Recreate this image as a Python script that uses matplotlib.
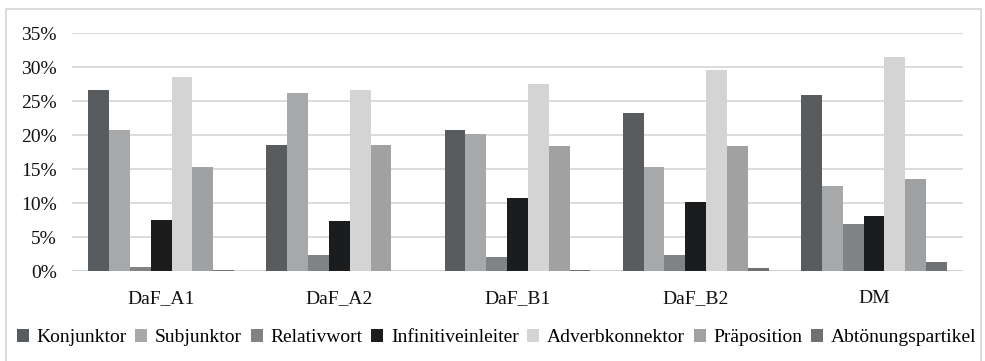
import matplotlib
matplotlib.use("Agg")
import matplotlib.pyplot as plt
import numpy as np
from matplotlib.patches import Rectangle

plt.rcParams['font.family'] = ['Liberation Serif', 'DejaVu Serif']

groups = ["DaF_A1", "DaF_A2", "DaF_B1", "DaF_B2", "DM"]
series = ["Konjunktor", "Subjunktor", "Relativwort", "Infinitiveinleiter",
          "Adverbkonnektor", "Präposition", "Abtönungspartikel"]

konjunktor = [26.7, 18.55, 20.7, 23.3, 25.9]
subjunktor = [20.7, 26.2, 20.1, 15.3, 12.5]
relativwort = [0.6, 2.4, 2.05, 2.4, 6.95]
infinitiveinleiter = [7.45, 7.35, 10.7, 10.2, 8.05]
adverbkonnektor = [28.6, 26.65, 27.5, 29.6, 31.5]
praeposition = [15.3, 18.55, 18.45, 18.45, 13.55]
abtoenungspartikel = [0.1, 0.0, 0.1, 0.5, 1.35]

values = [konjunktor, subjunktor, relativwort, infinitiveinleiter,
          adverbkonnektor, praeposition, abtoenungspartikel]
colors = ["#595C5E", "#A6A8A9", "#808283", "#1A1C1E",
          "#D4D4D4", "#9FA1A2", "#6F7172"]

FS = 14

fig = plt.figure(figsize=(9.85, 3.61), dpi=100)
ax = fig.add_axes([0.0731, 0.2493, 0.9046, 0.6585])

x = np.arange(len(groups))
w = 0.117
n = len(series)
for i, (name, vals, col) in enumerate(zip(series, values, colors)):
    offs = (i - (n - 1) / 2) * w
    ax.bar(x + offs, np.array(vals) / 100.0, width=w, color=col,
           label=name, zorder=3, linewidth=0)

ax.set_xlim(-0.5, len(groups) - 0.5)
ax.set_ylim(0, 0.35)
yt = np.arange(0, 0.351, 0.05)
ax.set_yticks(yt)
ax.set_yticklabels([f"{int(round(v * 100))}%" for v in yt], fontsize=FS)
ax.set_xticks(x)
ax.set_xticklabels(groups, fontsize=FS)
ax.tick_params(axis='both', length=0, colors='#111111')
ax.tick_params(axis='y', pad=11)
ax.tick_params(axis='x', pad=14)
for s in ax.spines.values():
    s.set_visible(False)
ax.yaxis.grid(True, color="#D6D6D6", linewidth=1.2, zorder=0)
ax.set_axisbelow(True)
ax.axhline(0, color="#D0D0D0", linewidth=1.2, zorder=2)

# chart frame
fig.patches.append(Rectangle((6 / 985, -0.05), 975 / 985, (361 - 8.5) / 361 + 0.05,
                             transform=fig.transFigure, fill=False,
                             edgecolor="#D4D4D4", linewidth=1.2))

leg = fig.legend(loc="center left", bbox_to_anchor=(0.017, 0.065), ncol=7,
                 frameon=False, fontsize=FS, handlelength=0.62,
                 handleheight=0.62, handletextpad=0.4, columnspacing=0.44,
                 borderaxespad=0, borderpad=0)

fig.savefig("out.png", dpi=100)
